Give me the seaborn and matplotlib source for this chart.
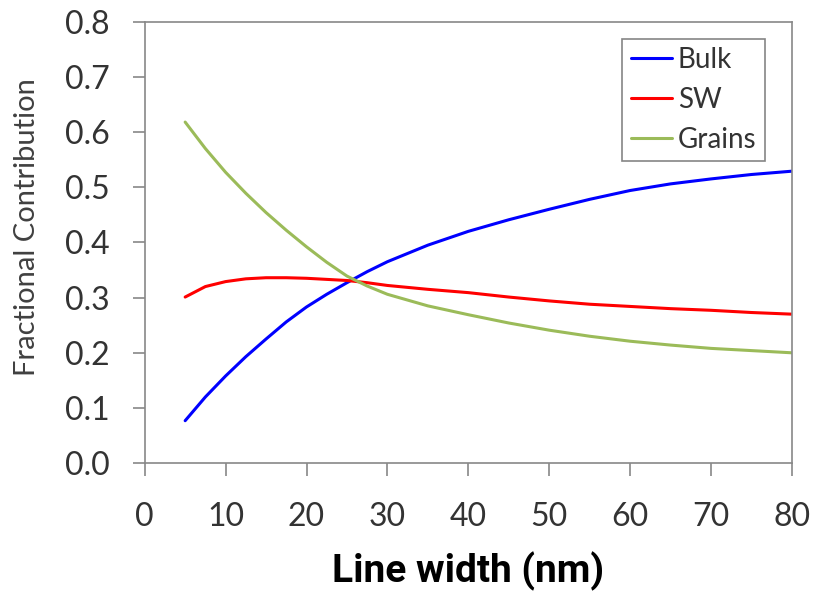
import matplotlib
matplotlib.use('Agg')
import matplotlib.pyplot as plt
import seaborn as sns
import pandas as pd

# valores
largura = [5, 7.5, 10, 12.5, 15, 17.5, 20, 22.5, 25, 27.5, 30, 35, 40, 45, 50, 55, 60, 65, 70, 75, 80]
bulk = [0.077, 0.120, 0.158, 0.193, 0.225, 0.256, 0.283, 0.306, 0.327, 0.347, 0.365, 0.395, 0.420, 0.441, 0.460, 0.478, 0.494, 0.506, 0.515, 0.523, 0.529]
sw = [0.301, 0.320, 0.329, 0.334, 0.336, 0.336, 0.335, 0.333, 0.331, 0.327, 0.322, 0.315, 0.309, 0.301, 0.294, 0.288, 0.284, 0.280, 0.277, 0.273, 0.270]
grains = [0.618, 0.570, 0.527, 0.489, 0.454, 0.422, 0.392, 0.364, 0.339, 0.321, 0.306, 0.285, 0.269, 0.254, 0.241, 0.230, 0.221, 0.214, 0.208, 0.204, 0.200]
series = ['Bulk', 'SW', 'Grains']
cores = ['#0000ff', '#ff0000', '#9bbb59']

df = pd.DataFrame({'Largura': largura * 3,
                   'Valor': bulk + sw + grains,
                   'Serie': [s for s in series for _ in largura]})

sns.set_style('white')
plt.rcParams['font.family'] = ['Lato', 'DejaVu Sans']

fig = plt.figure(figsize=(8.13, 6), dpi=100)
ax = fig.add_axes([0.178, 0.228, 0.796, 0.736])
sns.lineplot(data=df, x='Largura', y='Valor', hue='Serie', hue_order=series,
             palette=cores, linewidth=2.2, ax=ax)

ax.set_xlim(0, 80)
ax.set_ylim(0, 0.8)
ax.set_xticks(range(0, 81, 10))
ax.set_yticks([i / 10 for i in range(9)])
ax.set_yticklabels([f'{i / 10:.1f}' for i in range(9)])
ax.tick_params(axis='both', labelsize=23, labelcolor='#333333', color='#888888',
               length=9, width=1.2, direction='out', bottom=True, left=True)
ax.tick_params(axis='x', pad=19)
ax.tick_params(axis='y', pad=16)
for s in ax.spines.values():
    s.set_color('#888888')
    s.set_linewidth(1.2)

ax.set_xlabel('Line width (nm)', fontsize=28, fontweight='bold', color='black',
              family=['Roboto', 'DejaVu Sans'])
ax.xaxis.set_label_coords(0.5, -0.2)
ax.set_ylabel('Fractional Contribution', fontsize=21, color='#404040')
ax.yaxis.set_label_coords(-0.162, 0.535)

leg = ax.legend(loc='upper right', bbox_to_anchor=(0.958, 0.961), borderaxespad=0,
                fontsize=20, handlelength=1.5, handletextpad=0.2, labelspacing=0.5,
                frameon=True, fancybox=False, borderpad=0.3)
leg.get_frame().set_edgecolor('#666666')
leg.get_frame().set_linewidth(1.2)
for t in leg.get_texts():
    t.set_color('#333333')

plt.savefig('out.png', dpi=100)
